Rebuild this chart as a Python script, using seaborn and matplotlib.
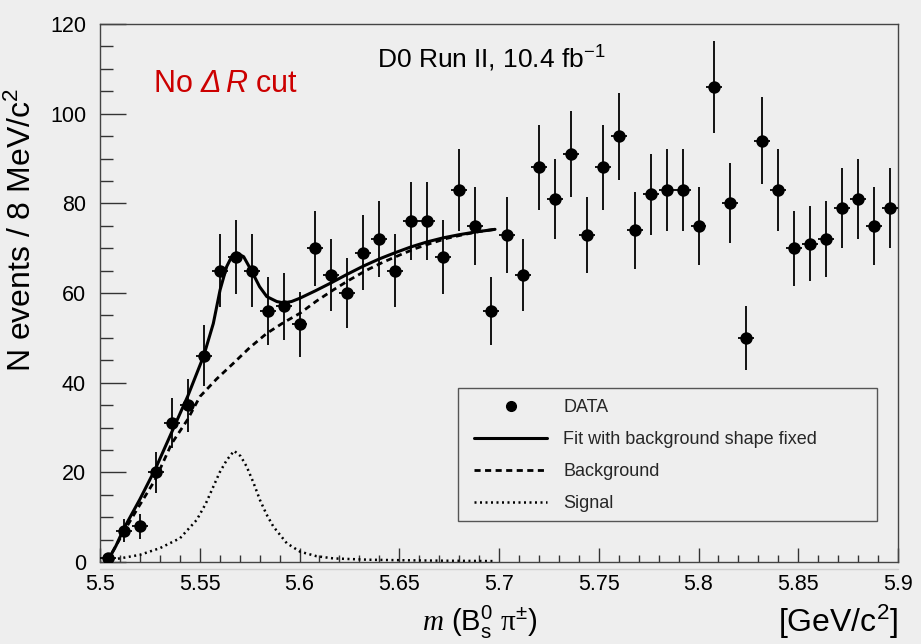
import numpy as np
import pandas as pd
import seaborn as sns
import matplotlib
matplotlib.use("Agg")
import matplotlib.pyplot as plt
from matplotlib.lines import Line2D
from matplotlib.patches import Rectangle

# ---------------- data ----------------
mass = [5.504, 5.512, 5.520, 5.528, 5.536, 5.544, 5.552, 5.560, 5.568, 5.576,
        5.584, 5.592, 5.600, 5.608, 5.616, 5.624, 5.632, 5.640, 5.648, 5.656,
        5.664, 5.672, 5.680, 5.688, 5.696, 5.704, 5.712, 5.720, 5.728, 5.736,
        5.744, 5.752, 5.760, 5.768, 5.776, 5.784, 5.792, 5.800, 5.808, 5.816,
        5.824, 5.832, 5.840, 5.848, 5.856, 5.864, 5.872, 5.880, 5.888, 5.896]
counts = [1, 7, 8, 20, 31, 35, 46, 65, 68, 65,
          56, 57, 53, 70, 64, 60, 69, 72, 65, 76,
          76, 68, 83, 75, 56, 73, 64, 88, 81, 91,
          73, 88, 95, 74, 82, 83, 83, 75, 106, 80,
          50, 94, 83, 70, 71, 72, 79, 81, 75, 79]
count_err = [1.0, 2.6, 2.8, 4.5, 5.6, 5.9, 6.8, 8.1, 8.2, 8.1,
             7.5, 7.5, 7.3, 8.4, 8.0, 7.7, 8.3, 8.5, 8.1, 8.7,
             8.7, 8.2, 9.1, 8.7, 7.5, 8.5, 8.0, 9.4, 9.0, 9.5,
             8.5, 9.4, 9.7, 8.6, 9.1, 9.1, 9.1, 8.7, 10.3, 8.9,
             7.1, 9.7, 9.1, 8.4, 8.4, 8.5, 8.9, 9.0, 8.7, 8.9]
bin_half_width = 0.004

fit_x = [5.5035, 5.508, 5.512, 5.520, 5.528, 5.536, 5.544, 5.552, 5.5568, 5.5602,
         5.5635, 5.566, 5.5685, 5.572, 5.576, 5.580, 5.5836, 5.5886, 5.592, 5.596,
         5.600, 5.608, 5.616, 5.624, 5.632, 5.640, 5.648, 5.656, 5.664, 5.672,
         5.680, 5.688, 5.698]
fit_y = [0.0, 3.6, 7.5, 14.0, 21.0, 29.0, 37.0, 46.0, 53.2, 60.7,
         65.9, 68.1, 68.9, 68.1, 64.9, 61.4, 59.2, 58.1, 57.8, 58.1,
         58.8, 60.5, 62.3, 64.2, 66.0, 67.6, 69.0, 70.3, 71.4, 72.3,
         73.0, 73.6, 74.2]

bkg_x = [5.5035, 5.512, 5.5184, 5.5276, 5.5359, 5.5438, 5.5501, 5.5584, 5.5668, 5.575,
         5.5836, 5.592, 5.6003, 5.6085, 5.617, 5.625, 5.6337, 5.642, 5.6504, 5.658,
         5.666, 5.674, 5.682, 5.690, 5.698]
bkg_y = [0.0, 6.8, 11.6, 18.3, 26.4, 31.7, 36.9, 40.8, 44.3, 47.8,
         51.0, 53.4, 55.5, 58.2, 60.7, 62.9, 65.1, 66.9, 68.5, 69.9,
         71.1, 72.2, 73.0, 73.7, 74.2]

sig_x = [5.5035, 5.510, 5.520, 5.5301, 5.5401, 5.5485, 5.5530, 5.5568, 5.5600, 5.5635,
         5.5672, 5.5705, 5.5735, 5.5770, 5.5802, 5.5835, 5.5869, 5.5936, 5.6003, 5.6085,
         5.617, 5.635, 5.650, 5.670, 5.698]
sig_y = [0.5, 0.8, 1.6, 3.1, 5.3, 9.4, 13.0, 16.8, 20.0, 22.7,
         24.8, 23.6, 21.3, 17.6, 13.8, 10.6, 7.9, 4.2, 2.3, 1.3,
         0.8, 0.5, 0.4, 0.3, 0.2]

x_ticks = [5.5, 5.55, 5.6, 5.65, 5.7, 5.75, 5.8, 5.85, 5.9]
x_tick_labels = ["5.5", "5.55", "5.6", "5.65", "5.7", "5.75", "5.8", "5.85", "5.9"]
y_ticks = [0, 20, 40, 60, 80, 100, 120]

# ---------------- style ----------------
BG = "#eeeeee"
sns.set_theme(style="ticks")
plt.rcParams.update({
    "font.family": ["Liberation Sans", "DejaVu Sans"],
    "mathtext.fontset": "custom",
    "mathtext.rm": "Liberation Sans",
    "mathtext.it": "Liberation Sans:italic",
    "mathtext.bf": "Liberation Sans:bold",
    "mathtext.sf": "Liberation Sans:italic",
    "mathtext.cal": "Liberation Serif:italic",
    "mathtext.tt": "Liberation Serif",
    "figure.facecolor": BG,
    "axes.facecolor": BG,
    "savefig.facecolor": BG,
})

W, H = 921, 644
fig = plt.figure(figsize=(W / 100, H / 100), dpi=100)
L, R, T, B = 100, 898, 24, 562
ax = fig.add_axes([L / W, 1 - B / H, (R - L) / W, (B - T) / H])

def fx(px):
    return px / W

def fy(py):
    return 1 - py / H

def ax_x(px):
    return (px - L) / (R - L)

def ax_y(py):
    return (B - py) / (B - T)

df_data = pd.DataFrame({"mass": mass, "counts": counts, "err": count_err})
df_fit = pd.DataFrame({"x": fit_x, "y": fit_y})
df_bkg = pd.DataFrame({"x": bkg_x, "y": bkg_y})
df_sig = pd.DataFrame({"x": sig_x, "y": sig_y})

DOT = (0, (0.8, 1.4))
DASH = (0, (2.2, 1.6))

# curves
sns.lineplot(data=df_sig, x="x", y="y", ax=ax, color="black", lw=1.8,
             linestyle=DOT, sort=False, estimator=None, zorder=2)
sns.lineplot(data=df_bkg, x="x", y="y", ax=ax, color="black", lw=2.0,
             linestyle=DASH, sort=False, estimator=None, zorder=3)
sns.lineplot(data=df_fit, x="x", y="y", ax=ax, color="black", lw=2.2,
             sort=False, estimator=None, zorder=4)

# data with error bars
ax.errorbar(df_data["mass"], df_data["counts"], yerr=df_data["err"],
            xerr=bin_half_width, fmt="none", ecolor="black", elinewidth=1.3,
            capsize=0, zorder=5)
sns.scatterplot(data=df_data, x="mass", y="counts", ax=ax, color="black",
                s=80, edgecolor="black", linewidth=0, zorder=6)

ax.set_xlim(5.5, 5.9)
ax.set_ylim(0, 120)
ax.set_xticks(x_ticks)
ax.set_xticklabels(x_tick_labels)
ax.set_yticks(y_ticks)
ax.xaxis.set_minor_locator(matplotlib.ticker.MultipleLocator(0.01))
ax.yaxis.set_minor_locator(matplotlib.ticker.MultipleLocator(5))
ax.tick_params(axis="both", which="both", direction="in", colors="#333333",
               labelcolor="black", labelsize=15.5, top=False, right=False)
ax.tick_params(axis="x", which="major", length=10, width=1.0, pad=9)
ax.tick_params(axis="x", which="minor", length=5, width=1.0)
ax.tick_params(axis="y", which="major", length=19, width=1.0, pad=10)
ax.tick_params(axis="y", which="minor", length=9.5, width=1.0)
ax.set_xlabel("")
ax.set_ylabel("")
for s in ax.spines.values():
    s.set_color("#444444")
    s.set_linewidth(1.0)
    s.set_visible(True)

# legend: frame drawn as a rectangle, entries placed inside
ax.add_patch(Rectangle((ax_x(458), ax_y(521)), ax_x(877) - ax_x(458),
                       ax_y(388) - ax_y(521), transform=ax.transAxes,
                       facecolor=BG, edgecolor="#555555", lw=1.0, zorder=7))
handles = [
    Line2D([], [], marker="o", color="black", linestyle="none", markersize=7),
    Line2D([], [], color="black", lw=2.2),
    Line2D([], [], color="black", lw=2.0, linestyle=DASH),
    Line2D([], [], color="black", lw=1.8, linestyle=DOT),
]
labels = ["DATA", "Fit with background shape fixed", "Background", "Signal"]
leg = ax.legend(handles, labels, loc="upper left",
                bbox_to_anchor=(ax_x(474), ax_y(399)), borderaxespad=0,
                fontsize=13, handlelength=4.05, handletextpad=0.9,
                labelspacing=0.84, borderpad=0.0, frameon=False)
leg.set_zorder(8)

# texts
fig.text(fx(377), fy(68), r"D0 Run II, 10.4 fb$^{\mathregular{-1}}$", fontsize=19,
         ha="left", va="baseline", color="black")
fig.text(fx(153), fy(92), r"No $\mathsf{\Delta\,R}$ cut", fontsize=22,
         ha="left", va="baseline", color="#cc0000")
fig.text(fx(22), fy(230), r"N events / 8 MeV/c$^{2}$", fontsize=23,
         rotation=90, ha="center", va="center", color="black")
fig.text(fx(480), fy(622), r"$\mathcal{m}$ (B$^{0}_{\mathrm{s}}$ $\mathtt{\pi}^{\pm}$)",
         fontsize=21, ha="center", va="center", color="black")
fig.text(fx(898), fy(622), r"[GeV/c$^{2}$]", fontsize=23, ha="right",
         va="center", color="black")

# faint secondary axis line below the frame
fig.add_artist(Line2D([fx(100), fx(898)], [fy(569), fy(569)], color="#cfcfcf",
                      lw=1.0, transform=fig.transFigure))

fig.savefig("out.png", dpi=100, facecolor=BG)
